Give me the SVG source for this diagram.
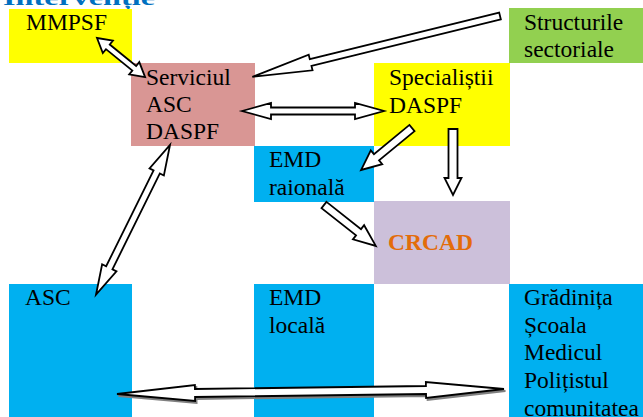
<svg xmlns="http://www.w3.org/2000/svg" width="643" height="417" viewBox="0 0 643 417">
<style>
.t{font-family:"Liberation Serif","Times New Roman",serif;font-size:23.5px;fill:#000}
.ar{fill:#fff;stroke:#000;stroke-width:1.8;stroke-linejoin:miter}
.sh{fill:#808080;stroke:#808080;stroke-width:1.8}
</style>
<rect width="643" height="417" fill="#fff"/>
<text x="3" y="5" font-family="Liberation Serif,serif" font-weight="bold" font-size="20" fill="#0070C0" textLength="152" lengthAdjust="spacingAndGlyphs">Intervenție</text>
<g id="mmpsf"><rect x="9" y="9" width="123" height="54" fill="#FFFF00"/><text class="t" x="26" y="30">MMPSF</text></g>
<g id="structurile"><rect x="509" y="8" width="134" height="55" fill="#92D050"/><text class="t" x="524" y="30">Structurile</text><text class="t" x="524" y="57">sectoriale</text></g>
<g id="serviciul"><rect x="131" y="63" width="124" height="83" fill="#D99694"/><text class="t" x="146" y="85">Serviciul</text><text class="t" x="146" y="112">ASC</text><text class="t" x="146" y="139">DASPF</text></g>
<g id="specialistii"><rect x="374" y="63" width="136" height="83" fill="#FFFF00"/><text class="t" x="389" y="85">Specialiștii</text><text class="t" x="389" y="113">DASPF</text></g>
<g id="emd-raionala"><rect x="254" y="146" width="120" height="56" fill="#00B0F0"/><text class="t" x="269" y="167">EMD</text><text class="t" x="269" y="195">raională</text></g>
<g id="crcad"><rect x="374" y="201" width="136" height="83" fill="#CCC0DA"/><text class="t" x="388" y="250" font-weight="bold" style="fill:#E36C09">CRCAD</text></g>
<g id="asc"><rect x="9" y="284" width="123" height="133" fill="#00B0F0"/><text class="t" x="25" y="305">ASC</text></g>
<g id="emd-locala"><rect x="254" y="284" width="120" height="133" fill="#00B0F0"/><text class="t" x="269" y="305">EMD</text><text class="t" x="269" y="333">locală</text></g>
<g id="gradinita"><rect x="509" y="284" width="134" height="133" fill="#00B0F0"/><text class="t" x="524" y="305">Grădinița</text><text class="t" x="524" y="333">Școala</text><text class="t" x="524" y="360">Medicul</text><text class="t" x="524" y="388">Polițistul</text><text class="t" x="524" y="416">comunitatea</text></g>
<g id="connectors">
<polygon class="ar" transform="translate(97,38) rotate(39.1)" points="0,0 14,-8 14,-3 48,-3 48,-8 62,0 48,8 48,3 14,3 14,8"/>
<polygon class="ar" transform="translate(500,16) rotate(166.2)" points="0,-3.5 195,-3.5 195,-8 255,0 195,8 195,3.5 0,3.5"/>
<polygon class="ar" transform="translate(242,111)" points="0,0 29,-8 29,-3.5 113,-3.5 113,-8 142,0 113,8 113,3.5 29,3.5 29,8"/>
<polygon class="ar" transform="translate(412,128) rotate(140.5)" points="0,-4 46,-4 46,-9 66,0 46,9 46,4 0,4"/>
<polygon class="ar" transform="translate(453,129) rotate(90)" points="0,-4.5 49,-4.5 49,-8.5 66,0 49,8.5 49,4.5 0,4.5"/>
<polygon class="ar" transform="translate(324,205) rotate(38.3)" points="0,-4 44,-4 44,-9 66,0 44,9 44,4 0,4"/>
<polygon class="ar" transform="translate(170,145) rotate(116.3)" points="0,0 30,-8 30,-3.5 137,-3.5 137,-8 167,0 137,8 137,3.5 30,3.5 30,8"/>
<polygon class="sh" transform="translate(118.5,396) rotate(-0.74)" points="0,0 78,-8 78,-4 309,-4 309,-8 387,0 309,8 309,4 78,4 78,8"/>
<polygon class="ar" transform="translate(117,394) rotate(-0.74)" points="0,0 78,-8 78,-4 309,-4 309,-8 387,0 309,8 309,4 78,4 78,8"/>
</g>
</svg>
